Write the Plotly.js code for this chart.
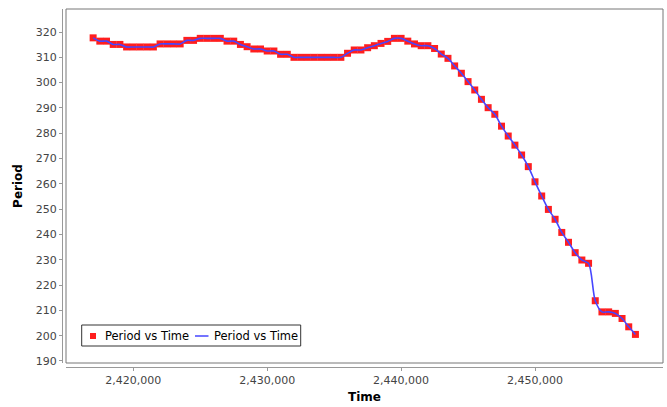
<!DOCTYPE html>
<html>
<head>
<meta charset="utf-8">
<script src="https://cdn.plot.ly/plotly-3.0.1.min.js"></script>
<style>html,body{margin:0;padding:0;background:#fff}#chart{width:667px;height:407px}</style>
</head>
<body>
<div id="chart"></div>
<script>
var seriesName = "Period vs Time";
var xTitle = "Time";
var yTitle = "Period";

var time = [
  2417000, 2417500, 2418000, 2418500, 2419000, 2419500, 2420000, 2420500, 2421000, 2421500,
  2422000, 2422500, 2423000, 2423500, 2424000, 2424500, 2425000, 2425500, 2426000, 2426500,
  2427000, 2427500, 2428000, 2428500, 2429000, 2429500, 2430000, 2430500, 2431000, 2431500,
  2432000, 2432500, 2433000, 2433500, 2434000, 2434500, 2435000, 2435500, 2436000, 2436500,
  2437000, 2437500, 2438000, 2438500, 2439000, 2439500, 2440000, 2440500, 2441000, 2441500,
  2442000, 2442500, 2443000, 2443500, 2444000, 2444500, 2445000, 2445500, 2446000, 2446500,
  2447000, 2447500, 2448000, 2448500, 2449000, 2449500, 2450000, 2450500, 2451000, 2451500,
  2452000, 2452500, 2453000, 2453500, 2454000, 2454500, 2455000, 2455500, 2456000, 2456500,
  2457000, 2457500
];

var period = [
  317.7, 316.4, 316.4, 315.1, 315.1, 314.1, 314.1, 314.1, 314.1, 314.1,
  315.3, 315.3, 315.3, 315.3, 316.7, 316.7, 317.5, 317.5, 317.5, 317.5,
  316.4, 316.4, 315.1, 314.2, 313.3, 313.3, 312.5, 312.5, 311.2, 311.2,
  310.0, 310.0, 310.0, 310.0, 310.0, 310.0, 310.0, 310.0, 311.6, 312.9,
  312.9, 313.8, 314.6, 315.5, 316.3, 317.5, 317.5, 316.4, 315.3, 314.6,
  314.6, 313.5, 311.3, 309.6, 306.6, 303.7, 300.4, 297.1, 293.4, 290.1,
  287.5, 282.8, 278.9, 275.3, 271.4, 266.8, 260.8, 255.2, 249.9, 246.0,
  240.8, 236.9, 232.8, 229.9, 228.6, 213.8, 209.4, 209.4, 208.8, 206.8,
  203.5, 200.5
];

var xTicks = [2420000, 2430000, 2440000, 2450000];
var yTicks = [190, 200, 210, 220, 230, 240, 250, 260, 270, 280, 290, 300, 310, 320];

var markerColor = "rgb(255,30,30)";
var lineColor = "rgb(70,70,255)";
var tickFont = {family: "DejaVu Sans", size: 11, color: "#444444"};
var titleFont = {family: "DejaVu Sans", size: 12, color: "#000000", weight: "bold"};

var W = 667, H = 407;
var mL = 62, mR = 4, mT = 9, mB = 40;
var pw = W - mL - mR, ph = H - mT - mB;
var off = 4;

var traces = [
  {x: time, y: period, type: "scatter", mode: "markers", name: seriesName,
   marker: {symbol: "square", size: 7, color: markerColor, line: {width: 0}}, showlegend: false},
  {x: time, y: period, type: "scatter", mode: "lines", name: seriesName,
   line: {color: lineColor, width: 1.6, shape: "spline", smoothing: 0.8}, showlegend: false}
];

function px(v){return v / pw;}
function py(v){return v / ph;}

var lgL = 81.7, lgR = 300.7, lgT = 325, lgB = 346;
function fx(xp){return (xp - mL) / pw;}
function fy(yp){return (H - mB - yp) / ph;}

var layout = {
  width: W, height: H,
  margin: {l: mL, r: mR, t: mT, b: mB, pad: 0},
  paper_bgcolor: "#ffffff", plot_bgcolor: "#ffffff",
  showlegend: false,
  xaxis: {
    domain: [px(off), 1], anchor: "free", position: 0,
    range: [2414974, 2459559],
    tickvals: xTicks, tickformat: ",d",
    showgrid: false, zeroline: false,
    showline: true, linecolor: "#999999", linewidth: 1,
    ticks: "outside", ticklen: 3, tickcolor: "#999999", tickwidth: 1,
    tickfont: tickFont,
    title: {text: xTitle, font: titleFont, standoff: 6}
  },
  yaxis: {
    domain: [py(off), 1], anchor: "free", position: 0,
    range: [189.2, 329.1],
    tickvals: yTicks,
    showgrid: false, zeroline: false,
    showline: true, linecolor: "#999999", linewidth: 1,
    ticks: "outside", ticklen: 3, tickcolor: "#999999", tickwidth: 1,
    tickfont: tickFont,
    title: {text: yTitle, font: titleFont, standoff: 9}
  },
  shapes: [
    {type: "rect", xref: "paper", yref: "paper", x0: px(off), x1: 1, y0: py(off), y1: 1,
     line: {color: "#777777", width: 1}, fillcolor: "rgba(0,0,0,0)", layer: "above"},
    {type: "rect", xref: "paper", yref: "paper", x0: fx(lgL), x1: fx(lgR), y0: fy(lgB), y1: fy(lgT),
     line: {color: "#333333", width: 1}, fillcolor: "#ffffff", layer: "above"},
    {type: "rect", xref: "paper", yref: "paper", x0: fx(90), x1: fx(96), y0: fy(339), y1: fy(333),
     line: {width: 0}, fillcolor: markerColor, layer: "above"},
    {type: "line", xref: "paper", yref: "paper", x0: fx(195), x1: fx(208.5), y0: fy(336), y1: fy(336),
     line: {color: lineColor, width: 1.5}, layer: "above"}
  ],
  annotations: [
    {xref: "paper", yref: "paper", x: fx(102.5), y: fy(336), xanchor: "left", yanchor: "middle",
     text: seriesName, showarrow: false, font: {family: "DejaVu Sans", size: 11.5, color: "#000"}},
    {xref: "paper", yref: "paper", x: fx(212), y: fy(336), xanchor: "left", yanchor: "middle",
     text: seriesName, showarrow: false, font: {family: "DejaVu Sans", size: 11.5, color: "#000"}}
  ]
};

Plotly.newPlot("chart", traces, layout, {staticPlot: true, displayModeBar: false});
</script>
</body>
</html>
